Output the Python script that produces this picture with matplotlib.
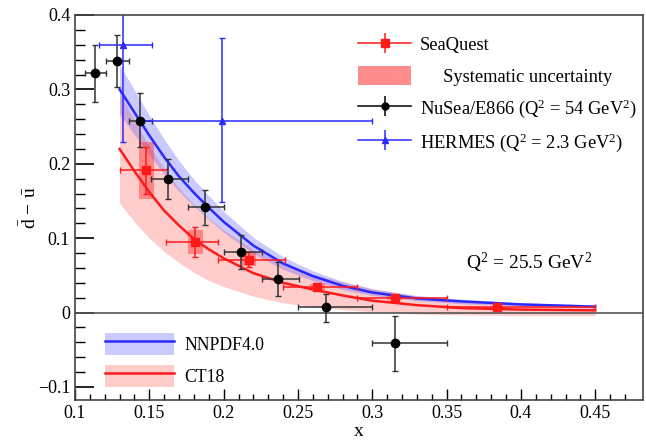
import numpy as np
import matplotlib
matplotlib.use("Agg")
import matplotlib.pyplot as plt
from matplotlib.patches import Patch, Rectangle
from matplotlib.lines import Line2D

plt.rcParams['font.family'] = ['Liberation Serif', 'DejaVu Serif']
plt.rcParams['mathtext.fontset'] = 'custom'
plt.rcParams['mathtext.rm'] = 'Liberation Serif'
plt.rcParams['mathtext.it'] = 'Liberation Serif:italic'

# SeaQuest points (stat + sys)
sq_x = [0.148, 0.181, 0.217, 0.263, 0.315, 0.384]
sq_y = [0.191, 0.095, 0.071, 0.035, 0.020, 0.007]
sq_xlo = [0.130, 0.161, 0.196, 0.240, 0.290, 0.350]
sq_xhi = [0.162, 0.196, 0.241, 0.290, 0.350, 0.450]
sq_stat = [0.032, 0.020, 0.010, 0.004, 0.003, 0.002]
sq_sys = [0.038, 0.016, 0.009, 0.004, 0.003, 0.002]

# NuSea / E866
e866_x = [0.1134, 0.128, 0.1437, 0.1623, 0.1874, 0.212, 0.2366, 0.269, 0.315]
e866_y = [0.322, 0.338, 0.258, 0.180, 0.142, 0.081, 0.045, 0.007, -0.041]
e866_xlo = [0.107, 0.121, 0.136, 0.151, 0.176, 0.200, 0.226, 0.250, 0.300]
e866_xhi = [0.121, 0.136, 0.152, 0.176, 0.200, 0.226, 0.251, 0.300, 0.350]
e866_ylo = [0.283, 0.303, 0.223, 0.152, 0.118, 0.058, 0.022, -0.013, -0.078]
e866_yhi = [0.360, 0.373, 0.295, 0.207, 0.165, 0.104, 0.068, 0.025, -0.004]

# HERMES
her_x = [0.132, 0.199]
her_y = [0.359, 0.258]
her_xlo = [0.116, 0.145]
her_xhi = [0.152, 0.300]
her_ylo = [0.229, 0.148]
her_yhi = [0.490, 0.369]

# PDF predictions at Q^2 = 25.5 GeV^2
x_th = [0.13, 0.14, 0.15, 0.16, 0.17, 0.18, 0.19, 0.20, 0.22, 0.24,
        0.26, 0.28, 0.30, 0.33, 0.36, 0.40, 0.45]
nn = [0.300, 0.269, 0.238, 0.209, 0.183, 0.161, 0.141, 0.122, 0.090, 0.066,
      0.049, 0.036, 0.027, 0.019, 0.015, 0.011, 0.008]
nn_lo = [0.267, 0.239, 0.212, 0.186, 0.163, 0.143, 0.125, 0.108, 0.079, 0.058,
         0.043, 0.031, 0.023, 0.016, 0.012, 0.009, 0.006]
nn_hi = [0.333, 0.299, 0.265, 0.233, 0.204, 0.179, 0.157, 0.136, 0.101, 0.075,
         0.056, 0.042, 0.032, 0.023, 0.018, 0.013, 0.010]
ct = [0.220, 0.190, 0.162, 0.137, 0.117, 0.099, 0.085, 0.073, 0.053, 0.040,
      0.031, 0.023, 0.016, 0.010, 0.006, 0.004, 0.003]
ct_lo = [0.147, 0.122, 0.100, 0.082, 0.067, 0.054, 0.043, 0.035, 0.022, 0.013,
         0.008, 0.004, 0.001, -0.002, -0.003, -0.004, -0.004]
ct_hi = [0.295, 0.258, 0.224, 0.193, 0.167, 0.145, 0.127, 0.111, 0.085, 0.066,
         0.052, 0.041, 0.032, 0.022, 0.016, 0.012, 0.009]

RED = '#ff1a1a'
BLUE = '#2a2aff'

fig = plt.figure(figsize=(6.46, 4.41), dpi=100)
ax = fig.add_axes([0.1161, 0.093, 0.879, 0.873])

ax.fill_between(x_th, ct_lo, ct_hi, color='#ff8080', alpha=0.4, lw=0)
ax.fill_between(x_th, nn_lo, nn_hi, color='#5050ff', alpha=0.3, lw=0)
ax.plot(x_th, ct, color=RED, lw=1.8)
ax.plot(x_th, nn, color=BLUE, lw=1.8)

ax.axhline(0, color='#555555', lw=1.2)

# systematic boxes
for x, y, s in zip(sq_x, sq_y, sq_sys):
    ax.add_patch(Rectangle((x - 0.005, y - s), 0.010, 2 * s,
                           color='#ff3030', alpha=0.45, lw=0))

def asym(c, lo, hi):
    c, lo, hi = map(np.asarray, (c, lo, hi))
    return [c - lo, hi - c]

eb_kw = dict(capsize=2, capthick=1, elinewidth=1.1, linestyle='none')
ax.errorbar(sq_x, sq_y, xerr=asym(sq_x, sq_xlo, sq_xhi), yerr=sq_stat,
            fmt='s', color=RED, ms=6, **eb_kw)
ax.errorbar(e866_x, e866_y, xerr=asym(e866_x, e866_xlo, e866_xhi),
            yerr=asym(e866_y, e866_ylo, e866_yhi),
            fmt='o', color='black', ecolor='#333333', ms=6, **eb_kw)
ax.errorbar(her_x, her_y, xerr=asym(her_x, her_xlo, her_xhi),
            yerr=asym(her_y, her_ylo, her_yhi),
            fmt='^', color=BLUE, ms=5, **eb_kw)

ax.set_xlim(0.1, 0.482)
ax.set_ylim(-0.1175, 0.4)
ax.set_xticks(np.arange(0.1, 0.451, 0.05))
ax.set_xticklabels(['0.1', '0.15', '0.2', '0.25', '0.3', '0.35', '0.4', '0.45'])
ax.set_xticks(np.arange(0.1, 0.48, 0.01), minor=True)
ax.set_yticks([-0.1, 0, 0.1, 0.2, 0.3, 0.4])
ax.set_yticklabels(['\u22120.1', '0', '0.1', '0.2', '0.3', '0.4'])
ax.set_yticks(np.arange(-0.1, 0.401, 0.02), minor=True)
ax.tick_params(which='both', direction='in', labelsize=13, top=False, right=False)
ax.tick_params(axis='y', which='major', length=14, width=1.2)
ax.tick_params(axis='y', which='minor', length=7, width=1.0)
ax.tick_params(axis='x', which='major', length=8, width=1.0)
ax.tick_params(axis='x', which='minor', length=4, width=1.0)
for s in ax.spines.values():
    s.set_linewidth(1.2)
    s.set_color('#444444')

ax.set_xlabel('x', fontsize=14, labelpad=1)
ax.set_ylabel(r'$\bar{\mathrm{d}}\,-\,\bar{\mathrm{u}}$', fontsize=14, labelpad=-2)

ax.text(0.363, 0.067, r'Q$^2$ = 25.5 GeV$^2$', fontsize=14, va='center')

# legend handles: horizontal bar + vertical bar + marker
def eb_handle(color, marker, ms):
    h = Line2D([], [], color=color, lw=1.1, marker=marker, ms=ms)
    v = Line2D([], [], color=color, lw=0, marker='|', ms=15, mew=1.1)
    return (h, v)

handles1 = [eb_handle(RED, 's', 6), Patch(color='#ff8c8c', lw=0),
            eb_handle('black', 'o', 5), eb_handle(BLUE, '^', 5)]
labels1 = ['SeaQuest', '     Systematic uncertainty',
           r'NuSea/E866 (Q$^2$ = 54 GeV$^2$)',
           r'HERMES (Q$^2$ = 2.3 GeV$^2$)']
leg1 = ax.legend(handles1, labels1, loc='upper left', bbox_to_anchor=(0.486, 0.968),
                 frameon=False, fontsize=13.3, handlelength=2.85, handleheight=1.2,
                 labelspacing=0.62, handletextpad=0.5, borderaxespad=0)
ax.add_artist(leg1)

handles2 = [(Patch(color='#5050ff', alpha=0.3, lw=0), Line2D([], [], color=BLUE, lw=1.8)),
            (Patch(color='#ff8080', alpha=0.4, lw=0), Line2D([], [], color=RED, lw=1.8))]
ax.legend(handles2, ['NNPDF4.0', 'CT18'], loc='lower left',
          bbox_to_anchor=(0.04, 0.016), frameon=False, fontsize=12.7,
          handlelength=3.9, handleheight=1.55, labelspacing=0.55, handletextpad=0.6,
          borderaxespad=0)

fig.savefig('out.png', dpi=100)
